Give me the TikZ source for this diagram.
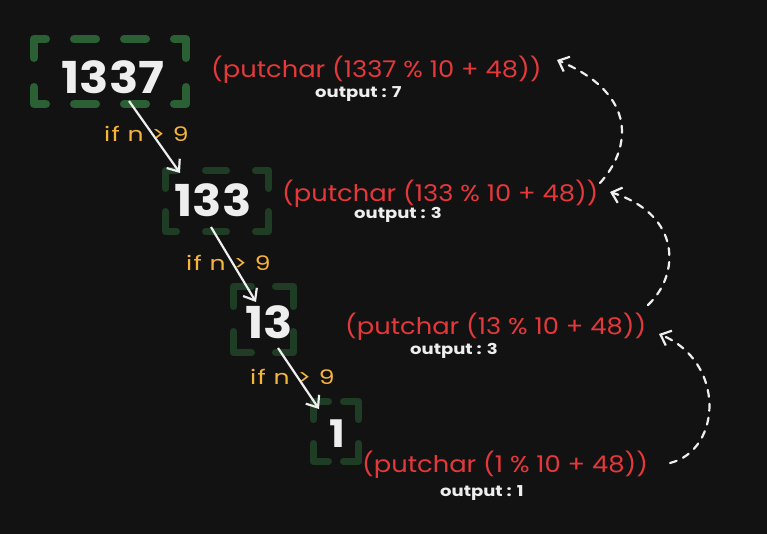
\documentclass[tikz,border=0pt]{standalone}
\usepackage{fontspec}
\setmainfont{Poppins}
\newfontfamily\redfont{Poppins}[FakeStretch=1.12]
\newfontfamily\condfont{Poppins}[FakeStretch=1.25, LetterSpace=6]
\newfontfamily\outfont{Poppins}[FakeStretch=1.2]
\newfontfamily\numfont{Poppins}[FakeStretch=1.1]
\usetikzlibrary{arrows.meta}
\definecolor{bg}{HTML}{121212}
\definecolor{gA}{HTML}{2B6035}
\definecolor{gB}{HTML}{1F3D25}
\definecolor{redt}{HTML}{E5383B}
\definecolor{orng}{HTML}{F5B53A}
\definecolor{wht}{HTML}{EEEEEE}
\tikzset{
  boxline/.style={line width=#1, line cap=round, line join=round},
  numtxt/.style={text=wht, inner sep=0pt, font=\numfont\bfseries\fontsize{44}{48}\selectfont},
  redtxt/.style={text=redt, inner sep=0pt, anchor=west, font=\redfont\fontsize{23}{27}\selectfont},
  outtxt/.style={text=wht, inner sep=0pt, anchor=west, font=\outfont\bfseries\fontsize{15}{17}\selectfont},
  condtxt/.style={text=orng, inner sep=0pt, anchor=west, font=\condfont\fontsize{20}{23}\selectfont},
  flow/.style={draw=wht, line width=2.2pt, -{Straight Barb[length=10pt,width=16pt,line width=2.2pt]}},
  ret/.style={draw=wht, line width=2.2pt, line cap=round, dash pattern=on 7pt off 7pt, -{Straight Barb[length=9pt,width=16pt,line width=2.2pt]}}
}
\begin{document}
\begin{tikzpicture}[x=1pt,y=-1pt]
\fill[bg] (0,0) rectangle (767,534);
\useasboundingbox (0,0) rectangle (767,534);
% box 1337
\draw[gA, boxline=8pt]
  (34,58)--(34,39)--(46,39) (74,39)--(96,39) (124,39)--(146,39) (174,39)--(186,39)--(186,58)
  (34,87)--(34,104)--(46,104) (74,104)--(96,104) (124,104)--(146,104) (174,104)--(186,104)--(186,87);
% box 133
\draw[gB, boxline=7pt]
  (165.5,188.5)--(165.5,170.5)--(176.5,170.5) (205.5,170.5)--(226.5,170.5) (255.5,170.5)--(268.5,170.5)--(268.5,188.5)
  (165.5,211.5)--(165.5,231.5)--(176.5,231.5) (205.5,231.5)--(226.5,231.5) (255.5,231.5)--(268.5,231.5)--(268.5,211.5);
% box 13
\draw[gB, boxline=7pt]
  (233.5,306.5)--(233.5,286.5)--(251.5,286.5) (275.5,286.5)--(293.5,286.5)--(293.5,306.5)
  (233.5,331.5)--(233.5,352.5)--(251.5,352.5) (275.5,352.5)--(293.5,352.5)--(293.5,331.5);
% box 1
\draw[gB, boxline=7pt]
  (313.5,419.5)--(313.5,401.5)--(328.5,401.5) (343.5,401.5)--(358.5,401.5)--(358.5,419.5)
  (313.5,443.5)--(313.5,461.5)--(328.5,461.5) (343.5,461.5)--(358.5,461.5)--(358.5,443.5);
% numbers
\node[numtxt] (n1) at (113,77) {1337};
\node[numtxt] (n2) at (213,200) {133};
\node[numtxt] (n3) at (269,322) {13};
\node[numtxt, font=\numfont\bfseries\fontsize{38}{42}\selectfont] (n4) at (337,434) {1};
% red texts
\node[redtxt] (r1) at (211,70) {(putchar (1337 \% 10 + 48))};
\node[redtxt] (r2) at (282,194) {(putchar (133 \% 10 + 48))};
\node[redtxt] (r3) at (345,327) {(putchar (13 \% 10 + 48))};
\node[redtxt] (r4) at (362,465) {(putchar (1 \% 10 + 48))};
% outputs
\node[outtxt] (o1) at (315,94) {output : 7};
\node[outtxt] (o2) at (354,215) {output : 3};
\node[outtxt] (o3) at (410,351) {output : 3};
\node[outtxt] (o4) at (440,493) {output : 1};
% conditions
\node[condtxt] (c1) at (104,134) {if n > 9};
\node[condtxt] (c2) at (186,263) {if n > 9};
\node[condtxt] (c3) at (250,377) {if n > 9};
% flow arrows
\coordinate (a1s) at (129,101); \coordinate (a1e) at (180,173);
\coordinate (a2s) at (211,227); \coordinate (a2e) at (256,302);
\coordinate (a3s) at (278,348); \coordinate (a3e) at (319,409);
\draw[flow] (a1s) -- (a1e);
\draw[flow] (a2s) -- (a2e);
\draw[flow] (a3s) -- (a3e);
% return arrows
\coordinate (b1s) at (670,463); \coordinate (b1e) at (659,334);
\coordinate (b2s) at (648,305); \coordinate (b2e) at (610,192);
\coordinate (b3s) at (600,183); \coordinate (b3e) at (557,60);
\draw[ret] (b1s) .. controls (722,450) and (726,362) .. (b1e);
\draw[ret] (b2s) .. controls (680,275) and (682,215) .. (b2e);
\draw[ret] (b3s) .. controls (630,150) and (640,95) .. (b3e);
\end{tikzpicture}
\end{document}
